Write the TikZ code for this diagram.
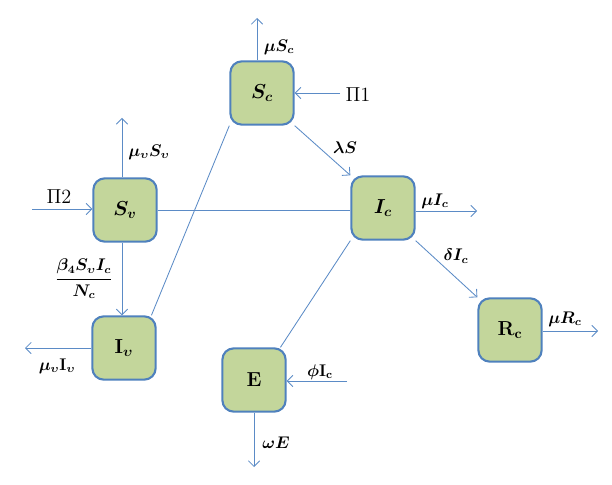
\documentclass[tikz,border=0pt]{standalone}
\usepackage{amsmath, amssymb}
\usepackage{xcolor}
\usepackage{tikz}
\usetikzlibrary{arrows.meta}
\definecolor{boxfill}{HTML}{C3D69B}
\definecolor{boxline}{HTML}{4F81BD}
\definecolor{flowline}{HTML}{5B8BC6}

\begin{document}
\begin{tikzpicture}[x=0.025cm,y=-0.025cm,
    comp/.style={draw=boxline,fill=boxfill,line width=1.5pt,rounded corners=8pt,
        minimum width=1.58cm,minimum height=1.58cm,font=\Large\boldmath},
    flow/.style={draw=flowline,line width=0.6pt,-{Straight Barb[length=4pt,width=8pt]}},
    link/.style={draw=flowline,line width=0.6pt},
    rate/.style={font=\large\boldmath,inner sep=1pt},
    inflow/.style={font=\Large,inner sep=1pt}]
    \useasboundingbox (0,0) rectangle (612,485);
    \node[comp] (Sc) at (262,93) {$S_c$};
    \node[comp] (Sv) at (125,210) {$S_v$};
    \node[comp] (Iv) at (124,348) {$\mathbf{I}_{\upsilon}$};
    \node[comp] (Ic) at (383,208) {$I_c$};
    \node[comp] (Rc) at (510,330) {$\mathbf{R}_{\mathbf{c}}$};
    \node[comp] (E) at (254,380) {$\mathbf{E}$};
    \coordinate (Sc-top) at (257,18);
    \coordinate (Pi1-in) at (340,93);
    \coordinate (Sv-top) at (122,118);
    \coordinate (Pi2-in) at (32,209);
    \coordinate (Iv-left) at (25,348);
    \coordinate (Ic-right) at (477,211);
    \coordinate (Rc-right) at (598,331);
    \coordinate (phi-in) at (347,381);
    \coordinate (E-bot) at (254,467);
    \draw[flow] (Sc.north -| Sc-top) -- (Sc-top);
    \draw[flow] (Pi1-in) -- (Pi1-in -| Sc.east);
    \draw[flow] (Sc.south east) -- (Ic.north west);
    \draw[flow] (Sv.north -| Sv-top) -- (Sv-top);
    \draw[flow] (Pi2-in) -- (Pi2-in -| Sv.west);
    \draw[flow] (Sv.south -| Sv-top) -- (Sv-top |- Iv.north);
    \draw[link] (Sv.east) -- (Sv.east -| Ic.west);
    \draw[link] (Iv.50) -- (Sc.south west);
    \draw[flow] (Iv.west) -- (Iv-left);
    \draw[flow] (Ic-right -| Ic.east) -- (Ic-right);
    \draw[flow] (Ic.south east) -- (Rc.north west);
    \draw[flow] (Rc-right -| Rc.east) -- (Rc-right);
    \draw[link] (E.51) -- (Ic.south west);
    \draw[flow] (phi-in) -- (phi-in -| E.east);
    \draw[flow] (E.south) -- (E-bot);
    \node[rate] (l-muSc) at (279,47) {$\mu S_c$};
    \node[inflow] (l-Pi1) at (358,95) {$\Pi$1};
    \node[rate] (l-lam) at (345,148) {$\lambda S$};
    \node[rate] (l-muSv) at (149,152) {$\mu_{\upsilon} S_{\upsilon}$};
    \node[inflow] (l-Pi2) at (59,197) {$\Pi$2};
    \node[rate] (l-beta) at (84,279) {$\dfrac{\beta_4 S_{\upsilon} I_c}{N_c}$};
    \node[rate] (l-muIv) at (57,366) {$\mu_{\upsilon}\mathbf{I}_{\upsilon}$};
    \node[rate] (l-muIc) at (435,201) {$\mu I_c$};
    \node[rate] (l-delta) at (456,256) {$\delta I_c$};
    \node[rate] (l-muRc) at (565,319) {$\mu R_c$};
    \node[rate] (l-phi) at (320,372) {$\phi\mathbf{I}_{\mathbf{c}}$};
    \node[rate] (l-omega) at (276,443) {$\omega E$};
\end{tikzpicture}
\end{document}
